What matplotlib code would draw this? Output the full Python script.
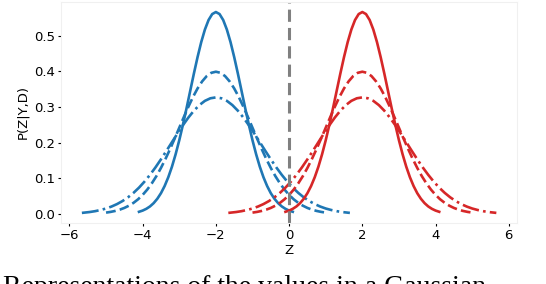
import numpy as np
import matplotlib.pyplot as plt

# class means on the Z axis
blue_mean = -2.0
red_mean = 2.0

# curve samples: Z relative to the class mean, and density
solid_dz = [-2.1, -2.0, -1.9, -1.8, -1.7, -1.6, -1.5, -1.4, -1.3, -1.2, -1.1, -1.0, -0.9, -0.8,
            -0.7, -0.6, -0.5, -0.4, -0.3, -0.2, -0.1, 0.0, 0.1, 0.2, 0.3, 0.4, 0.5, 0.6, 0.7,
            0.8, 0.9, 1.0, 1.1, 1.2, 1.3, 1.4, 1.5, 1.6, 1.7, 1.8, 1.9, 2.0, 2.1]
solid_p = [0.0067, 0.0101, 0.0150, 0.0217, 0.0309, 0.0431, 0.0588, 0.0788, 0.1034, 0.1329,
           0.1676, 0.2070, 0.2505, 0.2972, 0.3457, 0.3940, 0.4400, 0.4818, 0.5169, 0.5436,
           0.5603, 0.5660, 0.5603, 0.5436, 0.5169, 0.4818, 0.4400, 0.3940, 0.3457, 0.2972,
           0.2505, 0.2070, 0.1676, 0.1329, 0.1034, 0.0788, 0.0588, 0.0431, 0.0309, 0.0217,
           0.0150, 0.0101, 0.0067]

dashed_dz = [-3.0, -2.875, -2.75, -2.625, -2.5, -2.375, -2.25, -2.125, -2.0, -1.875, -1.75,
             -1.625, -1.5, -1.375, -1.25, -1.125, -1.0, -0.875, -0.75, -0.625, -0.5, -0.375,
             -0.25, -0.125, 0.0, 0.125, 0.25, 0.375, 0.5, 0.625, 0.75, 0.875, 1.0, 1.125, 1.25,
             1.375, 1.5, 1.625, 1.75, 1.875, 2.0, 2.125, 2.25, 2.375, 2.5, 2.625, 2.75, 2.875, 3.0]
dashed_p = [0.0044, 0.0064, 0.0091, 0.0127, 0.0175, 0.0238, 0.0317, 0.0417, 0.0540, 0.0688,
            0.0863, 0.1065, 0.1295, 0.1550, 0.1826, 0.2119, 0.2420, 0.2720, 0.3011, 0.3282,
            0.3521, 0.3718, 0.3867, 0.3958, 0.3989, 0.3958, 0.3867, 0.3718, 0.3521, 0.3282,
            0.3011, 0.2720, 0.2420, 0.2119, 0.1826, 0.1550, 0.1295, 0.1065, 0.0863, 0.0688,
            0.0540, 0.0417, 0.0317, 0.0238, 0.0175, 0.0127, 0.0091, 0.0064, 0.0044]

dashdot_dz = [-3.66, -3.45, -3.3, -3.15, -3.0, -2.85, -2.7, -2.55, -2.4, -2.25, -2.1, -1.95,
              -1.8, -1.65, -1.5, -1.35, -1.2, -1.05, -0.9, -0.75, -0.6, -0.45, -0.3, -0.15, 0.0,
              0.15, 0.3, 0.45, 0.6, 0.75, 0.9, 1.05, 1.2, 1.35, 1.5, 1.65, 1.8, 1.95, 2.1, 2.25,
              2.4, 2.55, 2.7, 2.85, 3.0, 3.15, 3.3, 3.45, 3.66]
dashdot_p = [0.0036, 0.0060, 0.0084, 0.0117, 0.0159, 0.0214, 0.0283, 0.0368, 0.0472, 0.0597,
             0.0743, 0.0912, 0.1101, 0.1310, 0.1536, 0.1773, 0.2016, 0.2258, 0.2491, 0.2707,
             0.2898, 0.3055, 0.3173, 0.3245, 0.3270, 0.3245, 0.3173, 0.3055, 0.2898, 0.2707,
             0.2491, 0.2258, 0.2016, 0.1773, 0.1536, 0.1310, 0.1101, 0.0912, 0.0743, 0.0597,
             0.0472, 0.0368, 0.0283, 0.0214, 0.0159, 0.0117, 0.0084, 0.0060, 0.0036]

blue = '#1f77b4'
red = '#d62728'

fig = plt.figure(figsize=(5.46, 2.84), dpi=100)
ax = fig.add_axes([0.112, 0.215, 0.835, 0.778])

lw = 1.9
for mean, col in [(blue_mean, blue), (red_mean, red)]:
    ax.plot(np.array(solid_dz) + mean, solid_p, color=col, lw=lw)
    ax.plot(np.array(dashed_dz) + mean, dashed_p, color=col, lw=lw, ls='--')
    ax.plot(np.array(dashdot_dz) + mean, dashdot_p, color=col, lw=lw, ls='-.')

ax.axvline(0, color='grey', lw=2.2, ls='--', dashes=(4, 2))

ax.set_xticks([-6, -4, -2, 0, 2, 4, 6])
ax.set_yticks([0.0, 0.1, 0.2, 0.3, 0.4, 0.5])
ax.tick_params(labelsize=9.5, length=2.5, width=0.8, pad=2)
ax.set_xlabel('Z', fontsize=9.5, labelpad=1)
ax.set_ylabel('P(Z|Y,D)', fontsize=9.5, labelpad=3)
for s in ax.spines.values():
    s.set_color('#f0f0f0')
    s.set_linewidth(0.8)

# caption of the page, cut off by the image border
fig.text(0.005, -0.034, 'Representations of the values in a Gaussian',
         family='Liberation Serif', fontsize=20, va='baseline', ha='left')

fig.savefig('out.png', dpi=100)
